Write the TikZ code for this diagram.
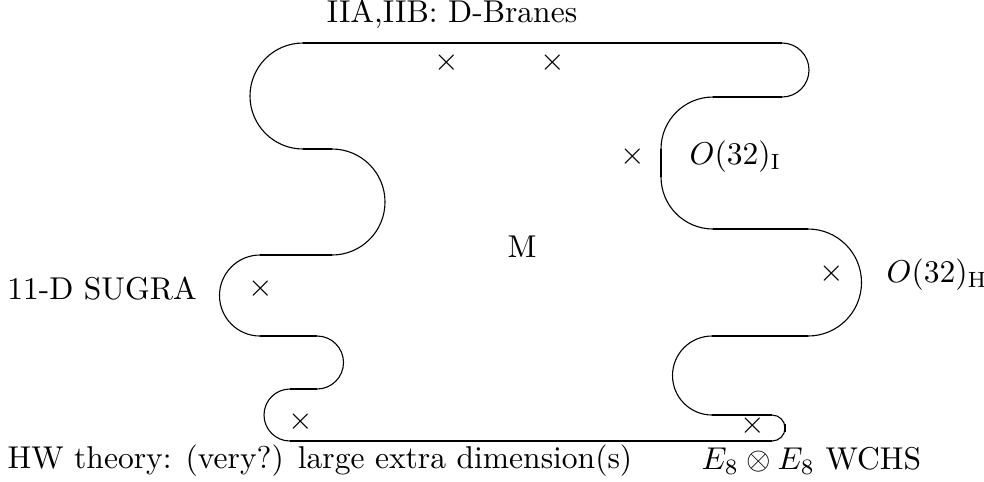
\documentclass[tikz,border=0pt]{standalone}
\usetikzlibrary{positioning}

\tikzset{
  bdry/.style={line width=0.8pt},
  curl/.style={line width=0.35pt},
  cross/.style={inner sep=0pt},
  lbl/.style={inner sep=0pt}
}

\begin{document}
\begin{tikzpicture}[x=0.317pt,y=-0.317pt]
\useasboundingbox (0,0) rectangle (984,481);

% Define the corners of the moduli space
\coordinate (A) at (303,43);
\coordinate (B) at (782,43);
\coordinate (C) at (782,97);
\coordinate (D) at (713,97);
\coordinate (E) at (661,149);
\coordinate (F) at (661,177);
\coordinate (G) at (713,229);
\coordinate (H) at (808,229);
\coordinate (I) at (808,336);
\coordinate (J) at (712,336);
\coordinate (K) at (712,415);
\coordinate (L) at (772,415);
\coordinate (N) at (772,441);
\coordinate (P) at (290,441);
\coordinate (Q) at (290,389);
\coordinate (R) at (317,389);
\coordinate (S) at (317,336);
\coordinate (T) at (260,336);
\coordinate (U) at (260,255);
\coordinate (V) at (332,255);
\coordinate (W) at (332,149);
\coordinate (X) at (303,149);

% Draw the straight pieces
\draw[bdry] (A) -- (B);
\draw[bdry] (C) -- (D);
\draw[bdry] (E) -- (F);
\draw[bdry] (G) -- (H);
\draw[bdry] (I) -- (J);
\draw[bdry] (K) -- (L);
\draw[bdry] (N) -- (P);
\draw[bdry] (Q) -- (R);
\draw[bdry] (S) -- (T);
\draw[bdry] (U) -- (V);
\draw[bdry] (W) -- (X);
\draw[bdry] (785,424) -- (785,432);

% Draw the rounded pieces
\draw[curl] (B) arc (270:450:27);
\draw[curl] (D) arc (270:180:52);
\draw[curl] (F) arc (180:90:52);
\draw[curl] (H) arc (270:450:53.5);
\draw[curl] (J) arc (270:90:39.5);
\draw[curl] (L) arc (270:450:13);
\draw[curl] (P) arc (90:270:26);
\draw[curl] (R) arc (90:-90:26.5);
\draw[curl] (T) arc (90:270:40.5);
\draw[curl] (V) arc (90:-90:53);
\draw[curl] (X) arc (90:270:53);

% Draw the crosses
\node[cross] (x1) at (447,63) {$\times$};
\node[cross] (x2) at (553,63) {$\times$};
\node[cross] (x3) at (633,157) {$\times$};
\node[cross] (x4) at (832,274) {$\times$};
\node[cross] (x5) at (261,289) {$\times$};
\node[cross] (x6) at (301,422) {$\times$};
\node[cross] (x7) at (753,426) {$\times$};

% Labels
\node[lbl] (dbr) at (452,14) {IIA,IIB: D-Branes};
\node[lbl] (mth) at (522,247) {M};
\node[lbl] (sug) at (102,289) {11-D SUGRA};
\node[lbl, anchor=west] (oi) at (689,157) {$O(32)_{\mathrm{I}}$};
\node[lbl, anchor=west] (oh) at (886,275) {$O(32)_{\mathrm{H}}$};
\node[lbl, anchor=west] (hw) at (7,461) {HW theory: (very?) large extra dimension(s)};
\node[lbl, anchor=west] (ee) at (701,461) {$E_8\otimes E_8$ WCHS};
\end{tikzpicture}
\end{document}
